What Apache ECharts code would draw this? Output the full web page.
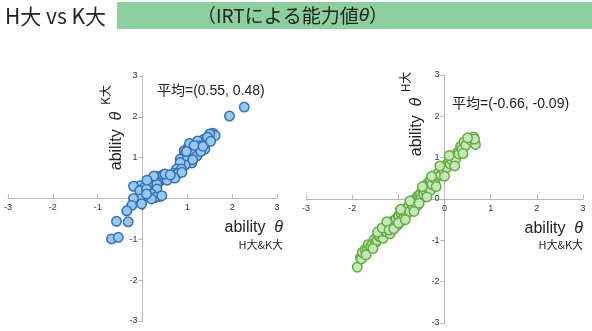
<!DOCTYPE html>
<html>
<head>
<meta charset="utf-8">
<script src="https://cdn.jsdelivr.net/npm/echarts@6/dist/echarts.min.js"></script>
<style>
  html, body { margin: 0; padding: 0; background: #fff; }
  #main { width: 592px; height: 331px; }
</style>
</head>
<body>
<div id="main"></div>
<script>
// left panel: H大&K大 (x) vs K大 (y)
const leftPoints = [
  [2.27, 2.24], [1.94, 2.02], [1.57, 1.60], [1.62, 1.54], [1.50, 1.58], [1.37, 1.45],
  [1.23, 1.41], [1.43, 1.39], [1.27, 1.29], [1.19, 1.21], [1.39, 1.21], [1.02, 1.25],
  [0.93, 1.17], [1.10, 1.11], [1.21, 1.04], [0.95, 1.09], [0.84, 0.96], [1.00, 0.98],
  [1.10, 0.87], [0.95, 0.82], [0.84, 0.88], [0.76, 0.72], [0.87, 0.72], [0.65, 0.56],
  [0.54, 0.52], [0.43, 0.56], [0.32, 0.54], [0.39, 0.43], [0.24, 0.41], [0.13, 0.35],
  [-0.06, 0.31], [-0.20, 0.30], [0.05, 0.28], [0.23, 0.27], [0.35, 0.38], [0.61, 0.52],
  [0.46, 0.58], [0.15, 0.40], [0.32, 0.35], [-0.06, 0.19], [0.09, 0.23], [0.32, 0.23],
  [0.20, 0.11], [0.39, 0.05], [0.28, 0.03], [0.09, 0.07], [-0.06, -0.01], [-0.02, -0.13],
  [-0.20, 0.00], [-0.24, -0.17], [-0.35, -0.30], [-0.32, -0.57], [-0.58, -0.56], [-0.69, -0.99],
  [-0.54, -0.95], [0.43, 0.07], [0.20, -0.01], [0.09, 0.11], [1.05, 1.35], [1.30, 1.15],
  [0.70, 0.62], [0.55, 0.45], [1.15, 1.30], [0.78, 0.60], [1.45, 1.50], [0.98, 1.15],
  [1.35, 1.28], [0.72, 0.50], [0.50, 0.60], [1.12, 0.95], [0.62, 0.58], [0.25, 0.55],
  [0.10, 0.45], [1.52, 1.40], [0.88, 0.64]
];

// right panel: H大&K大 (x) vs H大 (y)
const rightPoints = [
  [-1.89, -1.65], [-1.82, -1.42], [-1.80, -1.45], [-1.78, -1.29], [-1.72, -1.22], [-1.67, -1.21],
  [-1.65, -1.10], [-1.60, -1.15], [-1.56, -1.08], [-1.52, -0.98], [-1.49, -1.05], [-1.46, -1.00],
  [-1.42, -0.90], [-1.39, -0.92], [-1.36, -0.85], [-1.33, -0.95], [-1.30, -0.78], [-1.28, -0.72],
  [-1.25, -0.80], [-1.22, -0.62], [-1.21, -0.60], [-1.18, -0.84], [-1.16, -0.70], [-1.14, -0.55],
  [-1.12, -0.66], [-1.10, -0.52], [-1.08, -0.60], [-1.05, -0.48], [-1.02, -0.64], [-1.00, -0.42],
  [-0.99, -0.40], [-0.96, -0.55], [-0.94, -0.35], [-0.92, -0.52], [-0.90, -0.30], [-0.88, -0.45],
  [-0.85, -0.25], [-0.83, -0.38], [-0.81, -0.28], [-0.79, -0.20], [-0.77, -0.16], [-0.75, -0.30],
  [-0.72, -0.10], [-0.70, -0.08], [-0.68, -0.18], [-0.65, -0.02], [-0.63, 0.00], [-0.61, -0.12],
  [-0.59, -0.16], [-0.57, 0.08], [-0.54, 0.05], [-0.52, 0.13], [-0.50, 0.02], [-0.47, 0.20],
  [-0.45, 0.12], [-0.42, 0.27], [-0.40, 0.18], [-0.37, 0.37], [-0.35, 0.25], [-0.32, 0.42],
  [-0.30, 0.45], [-0.30, 0.21], [-0.27, 0.35], [-0.24, 0.52], [-0.20, 0.48], [-0.16, 0.57],
  [-0.14, 0.62], [-0.12, 0.65], [-0.08, 0.58], [-0.05, 0.73], [-0.02, 0.70], [0.02, 0.81],
  [0.05, 0.76], [0.09, 0.89], [0.12, 0.85], [0.15, 0.95], [0.20, 1.01], [0.24, 0.97],
  [0.28, 1.12], [0.31, 1.09], [0.35, 1.27], [0.38, 1.20], [0.42, 1.38], [0.46, 1.30],
  [0.53, 1.46], [0.58, 1.42], [0.63, 1.50], [0.67, 1.32], [0.65, 1.45],
  [-1.70, -1.35], [-1.55, -1.20], [-1.45, -0.80], [-1.35, -0.70], [-1.25, -0.55], [-1.20, -0.75],
  [-1.10, -0.72], [-1.00, -0.58], [-0.95, -0.25], [-0.85, -0.50], [-0.75, -0.05], [-0.66, -0.30],
  [-0.55, -0.10], [-0.48, 0.30], [-0.38, 0.05], [-0.28, 0.55], [-0.18, 0.30], [-0.10, 0.80],
  [0.00, 0.55], [0.10, 1.05], [0.22, 0.80], [0.40, 1.10], [0.50, 1.48]
];

const axisMin = -3;
const axisMax = 3;
const leftMean = '平均=(0.55, 0.48)';
const rightMean = '平均=(-0.66, -0.09)';

const FONT = "'Liberation Sans', 'Noto Sans CJK JP', sans-serif";
const CJK = "'Noto Sans CJK JP', sans-serif";

const myChart = echarts.init(document.getElementById('main'));

// axes cross at 0: shift each axis from the grid edge to the middle
const makeX = (gridIndex, offset) => ({
  type: 'value',
  gridIndex,
  min: axisMin,
  max: axisMax,
  interval: 1,
  offset,
  splitLine: { show: false },
  axisLine: { onZero: false, lineStyle: { color: '#b8b8b8', width: 1 } },
  axisTick: { show: true, inside: true, length: 4, lineStyle: { color: '#b8b8b8' } },
  axisLabel: { color: '#333', fontSize: 9, fontFamily: FONT, margin: 5 },
});
const makeY = (gridIndex, offset) => ({
  type: 'value',
  gridIndex,
  min: axisMin,
  max: axisMax,
  interval: 1,
  offset,
  splitLine: { show: false },
  axisLine: { onZero: false, lineStyle: { color: '#b8b8b8', width: 1 } },
  axisTick: { show: true, length: 4, lineStyle: { color: '#b8b8b8' } },
  axisLabel: { color: '#333', fontSize: 9, fontFamily: FONT, margin: 5 },
});

const rich = { i: { fontStyle: 'italic', fontSize: 16, fontFamily: FONT, fill: '#222' } };

const option = {
  animation: false,
  grid: [
    { left: 8, top: 76, width: 269, height: 245 },
    { left: 306, top: 75, width: 277, height: 248 },
  ],
  xAxis: [makeX(0, -122.5), makeX(1, -124)],
  yAxis: [makeY(0, -134.5), makeY(1, -138.5)],
  series: [
    {
      type: 'scatter',
      xAxisIndex: 0,
      yAxisIndex: 0,
      data: leftPoints,
      symbolSize: 9.5,
      itemStyle: { color: '#92cbef', borderColor: '#3a6db5', borderWidth: 1.5, opacity: 1 },
    },
    {
      type: 'scatter',
      xAxisIndex: 1,
      yAxisIndex: 1,
      data: rightPoints,
      symbolSize: 9.5,
      itemStyle: { color: '#c6e8b6', borderColor: '#62ad48', borderWidth: 1.5, opacity: 1 },
    },
  ],
  graphic: [
    // heading
    { type: 'rect', shape: { x: 117, y: 2, width: 475, height: 27 }, style: { fill: '#8dcf9e' } },
    {
      type: 'text', x: 5, y: 16,
      style: { text: 'H大 vs K大', font: `21px ${CJK}`, fill: '#222', textVerticalAlign: 'middle' },
    },
    {
      type: 'text', x: 197, y: 16,
      style: {
        text: '（IRTによる能力値{i|θ}）', font: `19px ${CJK}`, fill: '#222', textVerticalAlign: 'middle',
        rich: { i: { fontStyle: 'italic', fontSize: 19, fontFamily: FONT, fill: '#222' } },
      },
    },
    // means
    {
      type: 'text', x: 157, y: 91,
      style: { text: leftMean, font: `14px ${FONT}`, fill: '#222', textVerticalAlign: 'middle' },
    },
    {
      type: 'text', x: 452, y: 104,
      style: { text: rightMean, font: `14px ${FONT}`, fill: '#222', textVerticalAlign: 'middle' },
    },
    // left axis titles
    {
      type: 'text', x: 283, y: 228,
      style: { text: 'ability  {i|θ}', font: `16px ${FONT}`, fill: '#222', textAlign: 'right', textVerticalAlign: 'middle', rich },
    },
    {
      type: 'text', x: 283, y: 245,
      style: { text: 'H大&K大', font: `11px ${CJK}`, fill: '#222', textAlign: 'right', textVerticalAlign: 'middle' },
    },
    {
      type: 'text', x: 117, y: 141, rotation: Math.PI / 2,
      style: { text: 'ability  {i|θ}', font: `16px ${FONT}`, fill: '#222', textAlign: 'center', textVerticalAlign: 'middle', rich },
    },
    {
      type: 'text', x: 105, y: 95, rotation: Math.PI / 2,
      style: { text: 'K大', font: `12px ${CJK}`, fill: '#222', textAlign: 'center', textVerticalAlign: 'middle' },
    },
    // right axis titles
    {
      type: 'text', x: 583, y: 229,
      style: { text: 'ability  {i|θ}', font: `16px ${FONT}`, fill: '#222', textAlign: 'right', textVerticalAlign: 'middle', rich },
    },
    {
      type: 'text', x: 583, y: 245,
      style: { text: 'H大&K大', font: `11px ${CJK}`, fill: '#222', textAlign: 'right', textVerticalAlign: 'middle' },
    },
    {
      type: 'text', x: 417, y: 127, rotation: Math.PI / 2,
      style: { text: 'ability  {i|θ}', font: `16px ${FONT}`, fill: '#222', textAlign: 'center', textVerticalAlign: 'middle', rich },
    },
    {
      type: 'text', x: 405, y: 82, rotation: Math.PI / 2,
      style: { text: 'H大', font: `12px ${CJK}`, fill: '#222', textAlign: 'center', textVerticalAlign: 'middle' },
    },
  ],
};

myChart.setOption(option);
</script>
</body>
</html>
